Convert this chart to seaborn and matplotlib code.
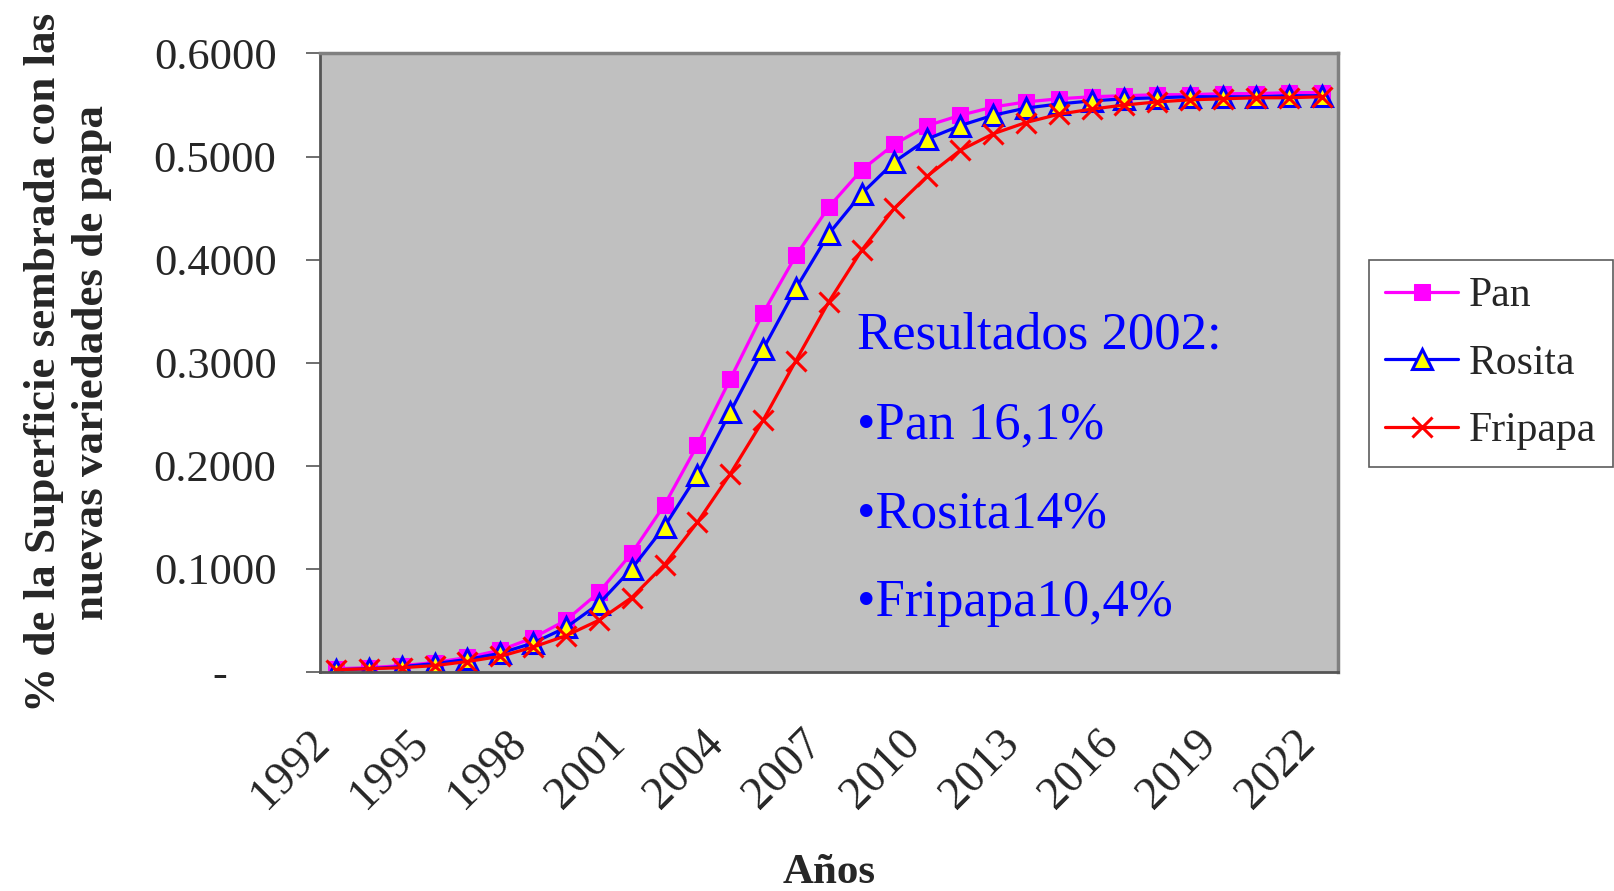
import matplotlib
matplotlib.use("Agg")
import matplotlib.pyplot as plt
import matplotlib.transforms as mtransforms
from matplotlib.ticker import FixedLocator, FuncFormatter
import seaborn as sns
import pandas as pd

years = list(range(1992, 2023))

pan = [0.003, 0.004, 0.006, 0.009, 0.014, 0.021, 0.033, 0.050, 0.077, 0.115,
       0.162, 0.220, 0.284, 0.348, 0.404, 0.451, 0.487, 0.512, 0.530, 0.540,
       0.548, 0.553, 0.556, 0.558, 0.559, 0.560, 0.560, 0.561, 0.561, 0.562,
       0.562]
rosita = [0.002, 0.003, 0.005, 0.008, 0.012, 0.018, 0.028, 0.043, 0.066, 0.100,
          0.141, 0.191, 0.252, 0.313, 0.372, 0.425, 0.464, 0.495, 0.517, 0.530,
          0.540, 0.547, 0.551, 0.554, 0.556, 0.557, 0.558, 0.558, 0.558, 0.559,
          0.559]
fripapa = [0.002, 0.003, 0.004, 0.006, 0.010, 0.015, 0.024, 0.035, 0.050, 0.072,
           0.104, 0.145, 0.192, 0.244, 0.302, 0.359, 0.409, 0.450, 0.481, 0.506,
           0.522, 0.533, 0.541, 0.546, 0.550, 0.553, 0.555, 0.556, 0.557, 0.557,
           0.558]

label_years = list(range(1992, 2023, 3))
y_ticks = [0.0, 0.1, 0.2, 0.3, 0.4, 0.5, 0.6]

notes = ["Resultados 2002:", "\u2022Pan 16,1%", "\u2022Rosita14%", "\u2022Fripapa10,4%"]

sns.set_style("white")
plt.rcParams['font.family'] = ['Liberation Serif', 'DejaVu Serif']

df = pd.DataFrame({"year": years, "Pan": pan, "Rosita": rosita, "Fripapa": fripapa})
long_df = df.melt(id_vars="year", var_name="variedad", value_name="valor")

fig = plt.figure(figsize=(16.14, 8.91), dpi=100)
ax = fig.add_axes([0.198, 0.246, 0.631, 0.694])
ax.set_facecolor("#C0C0C0")

styles = {
    "Pan": dict(color="#FF00FF", marker="s", markersize=12, markerfacecolor="#FF00FF",
                markeredgecolor="#FF00FF"),
    "Rosita": dict(color="#0000FF", marker="^", markersize=14, markerfacecolor="#FFFF00",
                   markeredgecolor="#0000FF", markeredgewidth=2.2),
    "Fripapa": dict(color="#FF0000", marker="x", markersize=14, markeredgewidth=2.2,
                    markeredgecolor="#FF0000"),
}

for name in ["Pan", "Rosita", "Fripapa"]:
    sub = long_df[long_df["variedad"] == name]
    sns.lineplot(data=sub, x="year", y="valor", ax=ax, label=name,
                 linewidth=2.3, **styles[name])

ax.set_xlim(1991.5, 2022.5)
ax.set_ylim(0, 0.6)

# category style x axis: ticks on the boundaries, labels every 3 years
ax.xaxis.set_major_locator(FixedLocator(label_years))
ax.xaxis.set_minor_locator(FixedLocator([y - 0.5 for y in years] + [2022.5]))
ax.tick_params(axis="x", which="major", length=0, pad=36)
ax.tick_params(axis="x", which="minor", length=10, width=1.2, color="#555555", direction="out")
ax.set_xticklabels([str(y) for y in label_years], rotation=45, ha="right",
                   rotation_mode="anchor", fontsize=33)
shift_x = mtransforms.ScaledTranslation(-0.28, 0, fig.dpi_scale_trans)
for lbl in ax.get_xticklabels():
    lbl.set_transform(lbl.get_transform() + shift_x)

ax.yaxis.set_major_locator(FixedLocator(y_ticks))
ax.yaxis.set_major_formatter(FuncFormatter(lambda v, p: "-" if v == 0 else f"{v:.4f}"))
ax.tick_params(axis="y", which="major", length=10, width=1.2, color="#555555",
               direction="out", pad=21, labelsize=32)
ax.tick_params(left=True, bottom=True)

for lbl in ax.get_yticklabels():
    if lbl.get_text() == "-":
        lbl.set_transform(lbl.get_transform() +
                          mtransforms.ScaledTranslation(-0.49, 0, fig.dpi_scale_trans))

for side in ["top", "right"]:
    ax.spines[side].set_color("#808080")
    ax.spines[side].set_linewidth(2.5)
for side in ["left", "bottom"]:
    ax.spines[side].set_color("#555555")
    ax.spines[side].set_linewidth(2)

ax.set_xlabel("Años", fontsize=31, fontweight="bold", labelpad=27)
ax.set_ylabel("% de la Superficie sembrada con las\nnuevas variedades de papa",
              fontsize=32.5, fontweight="bold", labelpad=30, linespacing=1.25)

note_y = [0.624, 0.523, 0.423, 0.323]
for txt, yy in zip(notes, note_y):
    fig.text(0.531, yy, txt, color="#0000FF", fontsize=38, va="center", ha="left")

leg = ax.legend(loc="center left", bbox_to_anchor=(0.848, 0.592),
                bbox_transform=fig.transFigure, fontsize=30, frameon=True,
                fancybox=False, edgecolor="#333333", handlelength=1.75,
                borderpad=0.4, labelspacing=0.7, handletextpad=0.25,
                borderaxespad=0)
leg.get_frame().set_linewidth(1.2)

fig.savefig("out.png", dpi=100)
